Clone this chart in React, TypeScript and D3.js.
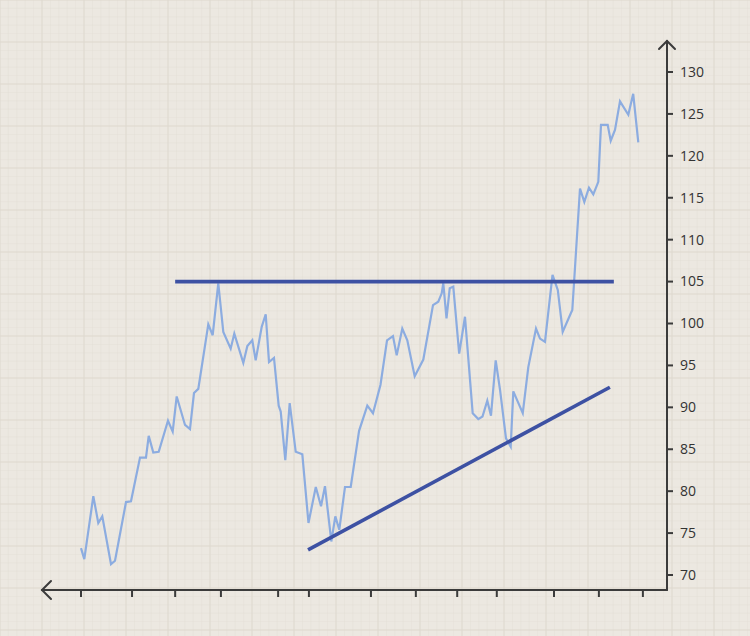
import React from "react";
import * as d3 from "d3";

// time axis in trading-day units
const days = [0, 0.75, 2.8, 3.93, 4.84, 6.82, 7.73, 10.23, 11.36, 13.41, 14.77, 15.39, 16.43, 17.66, 19.77, 20.84, 21.75, 23.64, 24.77, 25.68, 26.66, 28.93, 29.93, 31.2, 32.34, 34.02, 34.84, 36.89, 37.8, 38.93, 39.7, 41.07, 41.98, 42.73, 43.86, 44.93, 45.39, 46.43, 47.43, 48.8, 50.3, 51.7, 53.36, 54.55, 55.45, 56.89, 57.8, 58.7, 60, 61.3, 63.2, 65.07, 66.36, 68.07, 69.55, 70.9, 71.75, 73.02, 74.16, 75.84, 77.8, 80, 81.2, 81.98, 82.34, 83.07, 83.8, 84.61, 85.95, 87.27, 89.02, 90.3, 91.25, 92.34, 93.18, 94.25, 95.23, 96.59, 97.66, 98.25, 100.4, 101.66, 103.41, 104.32, 105.45, 107.16, 108.36, 109.48, 111.3, 111.66, 113.41, 114.39, 115.45, 116.43, 117.57, 118.18, 119.7, 120.39, 121.36, 122.5, 124.39, 125.5, 126.66];
const prices = [73.2, 71.9, 79.4, 76.2, 77.0, 71.3, 71.7, 78.7, 78.8, 84.0, 84.0, 86.6, 84.6, 84.7, 88.4, 87.1, 91.3, 87.9, 87.4, 91.7, 92.2, 99.9, 98.6, 104.8, 99.0, 97.0, 98.8, 95.3, 97.3, 98.0, 95.6, 99.6, 101.1, 95.4, 95.9, 90.2, 89.5, 83.7, 90.5, 84.7, 84.4, 76.2, 80.5, 78.2, 80.6, 74.0, 77.0, 75.4, 80.5, 80.5, 87.2, 90.2, 89.3, 92.7, 98.0, 98.5, 96.2, 99.4, 98.0, 93.7, 95.7, 102.2, 102.6, 103.6, 104.8, 100.6, 104.2, 104.4, 96.4, 100.8, 89.3, 88.6, 88.9, 90.8, 89.0, 95.6, 92.1, 86.3, 85.3, 91.9, 89.3, 94.8, 99.4, 98.2, 97.8, 105.8, 104.0, 99.0, 101.2, 101.6, 116.1, 114.5, 116.2, 115.4, 116.9, 123.7, 123.7, 121.8, 123.1, 126.5, 124.9, 127.4, 121.6];

const xTickDays = [0, 11.6, 21.4, 31.8, 44.8, 51.8, 65.9, 76.1, 85.5, 94.5, 107.5, 117.7, 127.7];
const yTickValues = [70, 75, 80, 85, 90, 95, 100, 105, 110, 115, 120, 125, 130];

// trend lines: [day, value]
const resistance = [[21.4, 105], [121.1, 105]];
const support = [[51.6, 73.0], [120.2, 92.4]];

const W = 750;
const H = 636;

export default function App() {
  const x = d3.scaleLinear().domain([0, 128]).range([81, 644.2]);
  const y = d3.scaleLinear().domain([70, 130]).range([575, 72]);

  const axisX = 667;
  const axisY = 590;

  const line = d3
    .line<number>()
    .x((_, i) => x(days[i]))
    .y((d) => y(d));

  const seg = d3
    .line<number[]>()
    .x((d) => x(d[0]))
    .y((d) => y(d[1]));

  const minorV: number[] = d3.range(0, W, 8.4);
  const minorH: number[] = d3.range(0, H, 8.4);
  const majorV: number[] = d3.range(0, W, 42);
  const majorH: number[] = d3.range(0, H, 42);

  return (
    <svg
      width={W}
      height={H}
      style={{ position: "absolute", left: 0, top: 0, display: "block" }}
      fontFamily="'Open Sans', 'DejaVu Sans', sans-serif"
    >
      <rect x={0} y={0} width={W} height={H} fill="#ece8e1" />
      <g>
        {minorV.map((v, i) => (
          <line key={"mv" + i} x1={v} x2={v} y1={0} y2={H} stroke="#e3ded5" strokeWidth={0.8} opacity={0.5} />
        ))}
        {minorH.map((v, i) => (
          <line key={"mh" + i} x1={0} x2={W} y1={v} y2={v} stroke="#e3ded5" strokeWidth={0.8} opacity={0.5} />
        ))}
        {majorV.map((v, i) => (
          <line key={"Mv" + i} x1={v} x2={v} y1={0} y2={H} stroke="#dfd9cf" strokeWidth={1.4} opacity={0.55} />
        ))}
        {majorH.map((v, i) => (
          <line key={"Mh" + i} x1={0} x2={W} y1={v} y2={v} stroke="#dfd9cf" strokeWidth={1.4} opacity={0.55} />
        ))}
      </g>

      {/* price line */}
      <path
        d={line(prices) || ""}
        fill="none"
        stroke="#8cacE0"
        strokeWidth={2.2}
        strokeLinejoin="miter"
      />

      {/* trend lines */}
      <path d={seg(resistance) || ""} stroke="#3d51a3" strokeWidth={3.6} fill="none" />
      <path d={seg(support) || ""} stroke="#3d51a3" strokeWidth={3.6} fill="none" />

      {/* axes */}
      <g stroke="#3b3b3b" strokeWidth={2} fill="none" strokeLinecap="round">
        <line x1={axisX} x2={axisX} y1={41} y2={axisY} />
        <line x1={42} x2={axisX} y1={axisY} y2={axisY} />
        <polyline points={`${axisX - 8},${49} ${axisX},${41} ${axisX + 8},${49}`} strokeLinejoin="miter" />
        <polyline points={`${51},${axisY - 9} ${42},${axisY} ${51},${axisY + 9}`} strokeLinejoin="miter" />
        {xTickDays.map((d, i) => (
          <line key={"xt" + i} x1={x(d)} x2={x(d)} y1={axisY} y2={axisY + 7} strokeLinecap="butt" />
        ))}
        {yTickValues.map((v, i) => (
          <line key={"yt" + i} x1={axisX} x2={axisX + 6} y1={y(v)} y2={y(v)} strokeLinecap="butt" />
        ))}
      </g>
      <g fill="#333" fontSize={14}>
        {yTickValues.map((v, i) => (
          <text key={"yl" + i} x={680} y={y(v)} dy="0.35em">
            {v}
          </text>
        ))}
      </g>
    </svg>
  );
}
